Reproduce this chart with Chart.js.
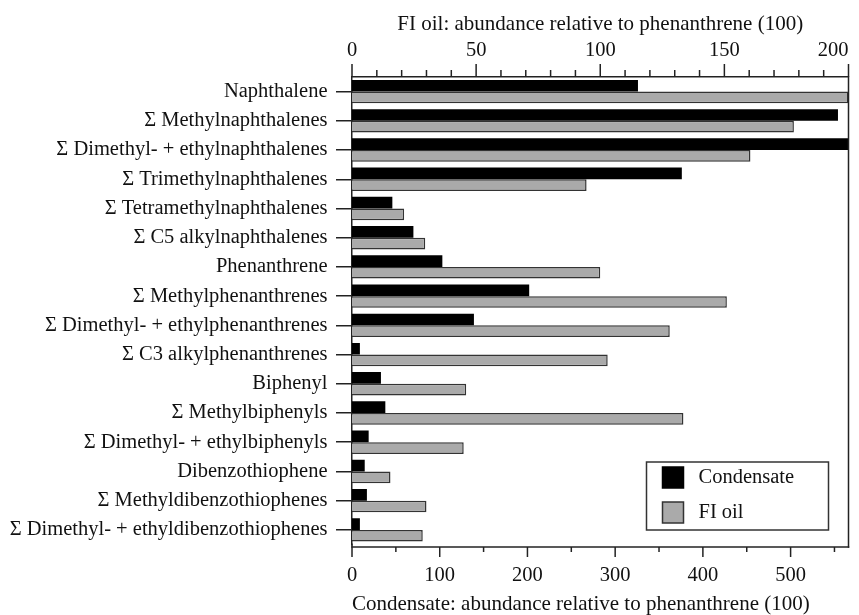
<!DOCTYPE html>
<html>
<head>
<meta charset="utf-8">
<script src="https://cdn.jsdelivr.net/npm/chart.js@4/dist/chart.umd.min.js"></script>
<style>
html,body{margin:0;padding:0;background:#fff;}
#wrap{width:859px;height:615px;}
</style>
</head>
<body>
<div id="wrap"><canvas id="c" width="859" height="615"></canvas></div>
<script>
const categories = [
  "Naphthalene",
  "\u03A3 Methylnaphthalenes",
  "\u03A3 Dimethyl- + ethylnaphthalenes",
  "\u03A3 Trimethylnaphthalenes",
  "\u03A3 Tetramethylnaphthalenes",
  "\u03A3 C5 alkylnaphthalenes",
  "Phenanthrene",
  "\u03A3 Methylphenanthrenes",
  "\u03A3 Dimethyl- + ethylphenanthrenes",
  "\u03A3 C3 alkylphenanthrenes",
  "Biphenyl",
  "\u03A3 Methylbiphenyls",
  "\u03A3 Dimethyl- + ethylbiphenyls",
  "Dibenzothiophene",
  "\u03A3 Methyldibenzothiophenes",
  "\u03A3 Dimethyl- + ethyldibenzothiophenes"
];
const condensate = [326, 554, 566, 376, 46, 70, 103, 202, 139, 9, 33, 38, 19, 14.5, 17, 9];
const fiOil = [200, 178, 160.5, 94.5, 21, 29.5, 100, 151, 128, 103, 46, 133.5, 45, 15.5, 30, 28.5];
const condTicks = [0, 100, 200, 300, 400, 500];
const fiTicks = [0, 50, 100, 150, 200];
const condMax = 566;
const fiMax = 200;
const condMinorStep = 50;
const fiMinorStep = 10;
const seriesNames = ["Condensate", "FI oil"];
const condTitle = "Condensate: abundance relative to phenanthrene (100)";
const fiTitle = "FI oil: abundance relative to phenanthrene (100)";

const FONT = "'Liberation Serif', 'Times New Roman', serif";
const INK = '#111';
const LINE = '#222';
const AXIS_GAP = 2.5; // bottom axis sits slightly below the last category
Chart.defaults.font.family = FONT;
Chart.defaults.color = INK;

const extras = {
  id: 'extras',
  afterDraw(chart) {
    const ctx = chart.ctx;
    const a = chart.chartArea;
    const yb = a.bottom + AXIS_GAP;
    ctx.save();
    ctx.strokeStyle = LINE;
    ctx.lineWidth = 1.5;
    // bottom axis line and left axis extension
    ctx.beginPath(); ctx.moveTo(a.left - 0.75, yb); ctx.lineTo(a.right + 0.75, yb); ctx.stroke();
    ctx.beginPath(); ctx.moveTo(a.left, a.bottom - 1); ctx.lineTo(a.left, yb); ctx.stroke();
    // ticks on bottom axis
    const xs = chart.scales.x;
    for (let v = 0; v <= condMax; v += condMinorStep) {
      const p = xs.getPixelForValue(v);
      const len = (v % 100 === 0) ? 10 : 5;
      ctx.beginPath(); ctx.moveTo(p, yb); ctx.lineTo(p, yb + len); ctx.stroke();
    }
    // ticks on top axis
    const xt = chart.scales.x2;
    for (let v = 0; v <= fiMax; v += fiMinorStep) {
      const p = xt.getPixelForValue(v);
      const len = (v % 50 === 0) ? 13 : 7;
      ctx.beginPath(); ctx.moveTo(p, a.top); ctx.lineTo(p, a.top - len); ctx.stroke();
    }
    // right frame line
    ctx.beginPath(); ctx.moveTo(a.right, a.top - 0.75); ctx.lineTo(a.right, yb + 0.75); ctx.stroke();

    // legend box
    const w = 182, h = 68;
    const x0 = a.right - 20 - w, y0 = yb - 17 - h;
    ctx.fillStyle = '#fff';
    ctx.fillRect(x0, y0, w, h);
    ctx.strokeStyle = '#333';
    ctx.lineWidth = 1.5;
    ctx.strokeRect(x0, y0, w, h);
    const ds = chart.data.datasets;
    ctx.font = "20.5px " + FONT;
    ctx.textBaseline = 'middle';
    ctx.textAlign = 'left';
    ds.forEach((d, i) => {
      const sy = y0 + 5 + i * 35;
      ctx.fillStyle = d.backgroundColor;
      ctx.fillRect(x0 + 16, sy, 21, 21);
      ctx.strokeStyle = d.borderColor;
      ctx.lineWidth = 1.5;
      ctx.strokeRect(x0 + 16, sy, 21, 21);
      ctx.fillStyle = INK;
      ctx.fillText(d.label, x0 + 52, sy + 11);
    });
    ctx.restore();
  }
};

new Chart(document.getElementById('c'), {
  type: 'bar',
  data: {
    labels: categories,
    datasets: [
      { label: seriesNames[0], data: condensate, xAxisID: 'x', backgroundColor: '#000', borderColor: '#000', borderWidth: 0 },
      { label: seriesNames[1], data: fiOil, xAxisID: 'x2', backgroundColor: '#aaaaaa', borderColor: '#333', borderWidth: 1.5 }
    ]
  },
  options: {
    indexAxis: 'y',
    responsive: false,
    animation: false,
    categoryPercentage: 0.8,
    barPercentage: 1.0,
    layout: { padding: { left: 0, right: 10.5, top: 0, bottom: 0 } },
    plugins: { legend: { display: false }, tooltip: { enabled: false } },
    scales: {
      y: {
        type: 'category',
        position: 'left',
        offset: true,
        grid: { display: true, drawOnChartArea: false, drawTicks: true, tickLength: 16, offset: false, color: LINE, lineWidth: 1.5 },
        border: { display: true, color: LINE, width: 1.5 },
        ticks: { autoSkip: false, padding: 8.5, color: INK, font: { size: 20.5 } },
        afterFit(s) { s.width = 352; s.paddingTop = 0; s.paddingBottom = 0; }
      },
      x: {
        type: 'linear',
        position: 'bottom',
        min: 0,
        max: condMax,
        grid: { display: false, drawTicks: false },
        border: { display: false },
        ticks: { padding: 19, color: INK, font: { size: 20.5 }, maxRotation: 0, autoSkip: false },
        afterBuildTicks(s) { s.ticks = condTicks.map(v => ({ value: v })); },
        title: { display: true, text: condTitle, align: 'start', color: INK, font: { size: 21, lineHeight: 1 }, padding: { top: 0, bottom: 0 } },
        afterFit(s) { s.height = 70.5; s.paddingLeft = 0; s.paddingRight = 0; }
      },
      x2: {
        type: 'linear',
        position: 'top',
        min: 0,
        max: fiMax,
        grid: { display: false, drawTicks: false },
        border: { display: true, color: LINE, width: 1.5 },
        ticks: {
          padding: 14, color: INK, font: { size: 20.5 }, maxRotation: 0, autoSkip: false,
          callback: (v) => v === fiMax ? String(v) + '\u2007\u2007\u2007' : String(v)
        },
        afterBuildTicks(s) { s.ticks = fiTicks.map(v => ({ value: v })); },
        title: { display: true, text: fiTitle, align: 'center', color: INK, font: { size: 21, lineHeight: 1 }, padding: { top: 13.5, bottom: 0 } },
        afterFit(s) { s.height = 77; s.paddingLeft = 0; s.paddingRight = 0; }
      }
    }
  },
  plugins: [extras]
});
</script>
</body>
</html>
